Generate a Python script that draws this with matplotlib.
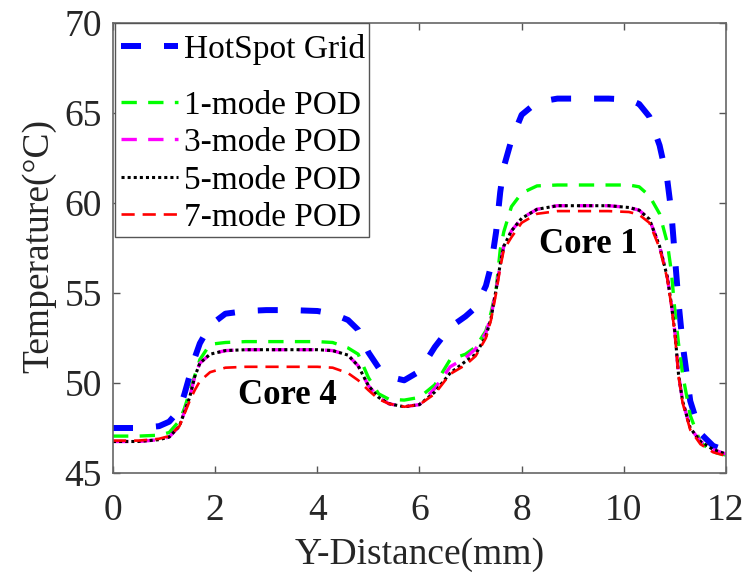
import matplotlib
matplotlib.use("Agg")
import matplotlib.pyplot as plt
from matplotlib.patches import Rectangle

# ---- data ----
x_mm = [0, 0.5, 0.9, 1.1, 1.3, 1.4, 1.5, 1.6, 1.7, 1.9, 2.2, 2.6, 3.0, 3.5, 4.0,
        4.3, 4.6, 4.8, 5.0, 5.2, 5.4, 5.7, 6.0, 6.3, 6.6, 6.9, 7.1, 7.3, 7.4,
        7.5, 7.58, 7.65, 7.8, 8.0, 8.3, 8.7, 9.2, 9.7, 10.1, 10.3, 10.5, 10.7,
        10.85, 10.93, 11.0, 11.07, 11.15, 11.3, 11.5, 11.75, 12.0]

hotspot = [47.5, 47.5, 47.6, 47.85, 48.5, 49.4, 50.4, 51.4, 52.2, 53.2, 53.85,
           54.0, 54.05, 54.05, 54.0, 53.85, 53.5, 52.95, 51.7, 50.85, 50.35, 50.15,
           50.65, 52.0, 53.1, 53.7, 54.2, 55.4, 56.5, 58.4, 60.6, 62.0, 63.5, 64.9,
           65.6, 65.8, 65.8, 65.8, 65.75, 65.5, 64.8, 63.2, 61.3, 59.5, 57.0, 54.5,
           52.2, 49.0, 47.2, 46.5, 46.25]

pod1 = [47.05, 47.05, 47.1, 47.25, 47.9, 48.6, 49.5, 50.4, 51.3, 52.15, 52.25,
        52.3, 52.3, 52.3, 52.3, 52.25, 51.95, 51.6, 50.3, 49.4, 49.1, 49.05, 49.2,
        49.9, 51.3, 51.6, 52.0, 52.9, 53.9, 55.2, 57.4, 58.4, 59.8, 60.55, 60.95,
        61.0, 61.0, 61.0, 61.0, 60.9, 60.4, 59.4, 57.8, 56.2, 54.0, 52.2, 50.5,
        48.2, 46.7, 46.15, 46.0]

pod3 = [46.75, 46.75, 46.85, 47.0, 47.6, 48.4, 49.2, 50.35, 51.1, 51.6, 51.8,
        51.85, 51.85, 51.85, 51.85, 51.8, 51.55, 50.95, 49.85, 49.2, 48.85, 48.68,
        48.8, 49.7, 50.9, 51.4, 51.9, 52.8, 53.7, 55.2, 56.6, 57.6, 58.45, 59.15,
        59.65, 59.85, 59.85, 59.85, 59.75, 59.6, 59.1, 57.6, 55.9, 54.4, 52.8,
        50.5, 49.0, 47.5, 46.75, 46.3, 46.05]

pod5 = [46.75, 46.75, 46.85, 47.0, 47.6, 48.4, 49.2, 50.35, 51.1, 51.6, 51.8,
        51.85, 51.85, 51.85, 51.85, 51.8, 51.55, 50.95, 49.85, 49.2, 48.85, 48.68,
        48.8, 49.5, 50.55, 51.2, 51.6, 52.6, 53.6, 55.2, 56.6, 57.6, 58.45, 59.15,
        59.65, 59.85, 59.85, 59.85, 59.75, 59.6, 59.1, 57.6, 55.9, 54.4, 52.8,
        50.5, 49.0, 47.5, 46.75, 46.3, 46.05]

pod7 = [46.8, 46.8, 46.9, 47.05, 47.6, 48.3, 49.0, 49.6, 50.1, 50.6, 50.85, 50.9,
        50.9, 50.9, 50.9, 50.85, 50.55, 50.15, 49.6, 49.1, 48.85, 48.68, 48.8,
        49.4, 50.5, 51.0, 51.5, 52.5, 53.5, 55.0, 56.4, 57.4, 58.1, 58.9, 59.4,
        59.55, 59.55, 59.55, 59.5, 59.35, 58.9, 57.5, 55.8, 54.3, 52.7, 50.4, 48.9,
        47.4, 46.6, 46.15, 45.95]

series_labels = ["HotSpot Grid", "1-mode POD", "3-mode POD", "5-mode POD", "7-mode POD"]
x_ticks = [0, 2, 4, 6, 8, 10, 12]
y_ticks = [45, 50, 55, 60, 65, 70]

plt.rcParams['font.family'] = ['Liberation Serif', 'DejaVu Serif']

fig = plt.figure(figsize=(7.48, 5.73), dpi=100)
ax = fig.add_axes([113/748, 1 - 473/573, 613/748, 450/573])

lb, = ax.plot(x_mm, hotspot, color='#0000ff', lw=4.3, dashes=(3.35, 3.85),
              dash_capstyle='butt', label=series_labels[0])
lg, = ax.plot(x_mm, pod1, color='#00ff00', lw=2.4, dashes=(4.6, 3.4),
              dash_capstyle='butt', label=series_labels[1])
lm, = ax.plot(x_mm, pod3, color='#ff00ff', lw=2.4, dashes=(4.6, 3.4),
              dash_capstyle='butt', label=series_labels[2])
lk, = ax.plot(x_mm, pod5, color='black', lw=2.2, dashes=(1.0, 1.0),
              dash_capstyle='butt', label=series_labels[3])
lr, = ax.plot(x_mm, pod7, color='#ff0000', lw=1.9, dashes=(5.0, 3.0),
              dash_capstyle='butt', label=series_labels[4])

ax.set_xlim(0, 12)
ax.set_ylim(45, 70)
ax.set_xticks(x_ticks)
ax.set_yticks(y_ticks)
ax.tick_params(direction='in', length=5, width=1, color='#555555',
               labelsize=27, labelcolor='#262626', top=True, right=True)
ax.tick_params(axis='x', pad=15)
ax.tick_params(axis='y', pad=8)
for sp in ax.spines.values():
    sp.set_color('#666666')
    sp.set_linewidth(1.2)

ax.set_xlabel("Y-Distance(mm)", fontsize=27, color='#262626', va='top')
ax.xaxis.set_label_coords(0.5, -0.143)
ax.set_ylabel("Temperature(°C)", fontsize=27, color='#262626')
ax.yaxis.set_label_coords(-0.092, 0.505)

ax.text(3.41, 49.3, "Core 4", fontsize=25, fontweight='bold', ha='center', va='center')
ax.text(9.3, 57.67, "Core 1", fontsize=25, fontweight='bold', ha='center', va='center')

# legend frame
ax.add_patch(Rectangle((0.003, 0.5244), 0.4143, 0.4756, transform=ax.transAxes,
                       facecolor='white', edgecolor='#555555', lw=1.0, zorder=4))

leg_kw = dict(loc='upper left', frameon=False, borderpad=0, borderaxespad=0,
              handlelength=1.7, handletextpad=0.2, fontsize=24)
leg1 = ax.legend(handles=[lb], bbox_to_anchor=(0.013, 0.9756), **leg_kw)
leg1.set_zorder(5)
ax.add_artist(leg1)
leg2 = ax.legend(handles=[lg, lm, lk, lr], bbox_to_anchor=(0.013, 0.851),
                 labelspacing=0.21, **leg_kw)
leg2.set_zorder(5)

fig.savefig("out.png", dpi=100)
